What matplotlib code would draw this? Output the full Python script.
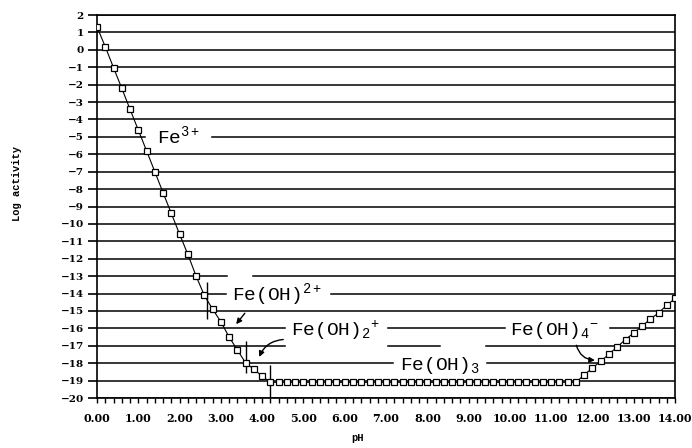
import matplotlib
matplotlib.use('Agg')
import matplotlib.pyplot as plt
from matplotlib.ticker import MultipleLocator, FormatStrFormatter

plt.rcParams['mathtext.fontset'] = 'custom'
plt.rcParams['mathtext.rm'] = 'Liberation Mono'
plt.rcParams['mathtext.it'] = 'Liberation Mono'

# pH grid and total log activity of Fe(III)
ph = [0.0, 0.2, 0.4, 0.6, 0.8, 1.0, 1.2, 1.4, 1.6, 1.8,
      2.0, 2.2, 2.4, 2.6, 2.8, 3.0, 3.2, 3.4, 3.6, 3.8,
      4.0, 4.2, 4.4, 4.6, 4.8, 5.0, 5.2, 5.4, 5.6, 5.8,
      6.0, 6.2, 6.4, 6.6, 6.8, 7.0, 7.2, 7.4, 7.6, 7.8,
      8.0, 8.2, 8.4, 8.6, 8.8, 9.0, 9.2, 9.4, 9.6, 9.8,
      10.0, 10.2, 10.4, 10.6, 10.8, 11.0, 11.2, 11.4, 11.6, 11.8,
      12.0, 12.2, 12.4, 12.6, 12.8, 13.0, 13.2, 13.4, 13.6, 13.8,
      14.0]
log_act = [1.31, 0.18, -1.03, -2.21, -3.42, -4.61, -5.80, -7.00, -8.21, -9.40,
           -10.59, -11.75, -13.00, -14.11, -14.90, -15.62, -16.50, -17.24, -17.99, -18.35,
           -18.75, -19.10, -19.10, -19.10, -19.10, -19.10, -19.10, -19.10, -19.10, -19.10,
           -19.10, -19.10, -19.10, -19.10, -19.10, -19.10, -19.10, -19.10, -19.10, -19.10,
           -19.10, -19.10, -19.10, -19.10, -19.10, -19.10, -19.10, -19.10, -19.10, -19.10,
           -19.10, -19.10, -19.10, -19.10, -19.10, -19.10, -19.10, -19.10, -19.10, -18.67,
           -18.27, -17.89, -17.48, -17.06, -16.64, -16.26, -15.87, -15.47, -15.11, -14.67,
           -14.28]

# species labels: text, pH of left edge, gridline it sits on
species = [r'Fe$^{3+}$', r'Fe(OH)$^{2+}$', r'Fe(OH)$_2$$^{+}$', r'Fe(OH)$_3$', r'Fe(OH)$_4$$^{-}$']
species_x = [1.45, 3.26, 4.71, 7.34, 10.0]
species_y = [-5, -14, -16, -18, -16]

# short vertical marks at the predominance boundaries
bound_x = [2.67, 3.60, 4.20]
bound_lo = [-15.47, -18.59, -20.0]
bound_hi = [-13.33, -16.72, -18.10]

# gaps in the horizontal rules (pH ranges)
gaps = {-5: [(1.16, 2.78)], -13: [(3.15, 3.78)], -14: [(3.12, 5.67)],
        -16: [(4.55, 7.05), (9.88, 12.42)],
        -17: [(4.55, 7.05), (8.3, 9.42)], -18: [(7.17, 9.44)]}


def rule(axis, y, xmin, xmax):
    start = xmin
    for a, b in gaps.get(y, []):
        axis.plot([start, a], [y, y], color='black', lw=1.1, zorder=1)
        start = b
    axis.plot([start, xmax], [y, y], color='black', lw=1.1, zorder=1)


def main():
    fig = plt.figure(figsize=(6.92, 4.48), dpi=100)
    ax = fig.add_axes([0.1402, 0.1116, 0.8353, 0.8549])
    ax.set_xlim(0, 14)
    ax.set_ylim(-20, 2)

    for y in range(-20, 3):
        rule(ax, y, 0, 14)

    ax.plot(ph, log_act, color='black', lw=0.8, marker='s', ms=5,
            mfc='white', mec='black', mew=0.9, zorder=3)

    ax.vlines(bound_x, bound_lo, bound_hi, color='black', lw=1.0, zorder=2)

    for s, x, y in zip(species, species_x, species_y):
        ax.text(x, y - 0.4, s, fontsize=14, family='Liberation Mono',
                ha='left', va='baseline', zorder=4)

    # arrows pointing from labels to the curve
    ax.annotate('', xy=(3.37, -15.76), xytext=(3.58, -15.13),
                arrowprops=dict(arrowstyle='-|>', color='black', lw=1.0,
                                mutation_scale=8, shrinkA=0, shrinkB=0))
    ax.annotate('', xy=(3.93, -17.64), xytext=(4.51, -16.64),
                arrowprops=dict(arrowstyle='-|>', color='black', lw=1.0,
                                mutation_scale=8, shrinkA=0, shrinkB=0,
                                connectionstyle='arc3,rad=0.3'))
    ax.annotate('', xy=(12.06, -17.83), xytext=(11.61, -16.97),
                arrowprops=dict(arrowstyle='-|>', color='black', lw=1.0,
                                mutation_scale=8, shrinkA=0, shrinkB=0,
                                connectionstyle='arc3,rad=0.35'))

    for sp in ax.spines.values():
        sp.set_linewidth(1.2)

    ax.yaxis.set_major_locator(MultipleLocator(1))
    ax.xaxis.set_major_locator(MultipleLocator(1))
    ax.xaxis.set_minor_locator(MultipleLocator(0.2))
    ax.xaxis.set_major_formatter(FormatStrFormatter('%.2f'))
    ax.tick_params(axis='y', direction='out', length=6.5, width=1.2, pad=3,
                   labelsize=7.5)
    ax.tick_params(axis='x', which='both', direction='out', length=3.5,
                   width=1.0, pad=7, labelsize=8)
    for lab in ax.get_xticklabels() + ax.get_yticklabels():
        lab.set_family('DejaVu Serif')
        lab.set_weight('bold')

    ax.set_ylabel('Log activity', family='Liberation Mono', weight='bold',
                  fontsize=7.5)
    ax.yaxis.set_label_coords(-0.130, 0.561)
    ax.set_xlabel('pH', family='Liberation Mono', weight='bold', fontsize=7.5)
    ax.xaxis.set_label_coords(0.45, -0.092)

    fig.savefig('out.png', dpi=100)


if __name__ == '__main__':
    main()
